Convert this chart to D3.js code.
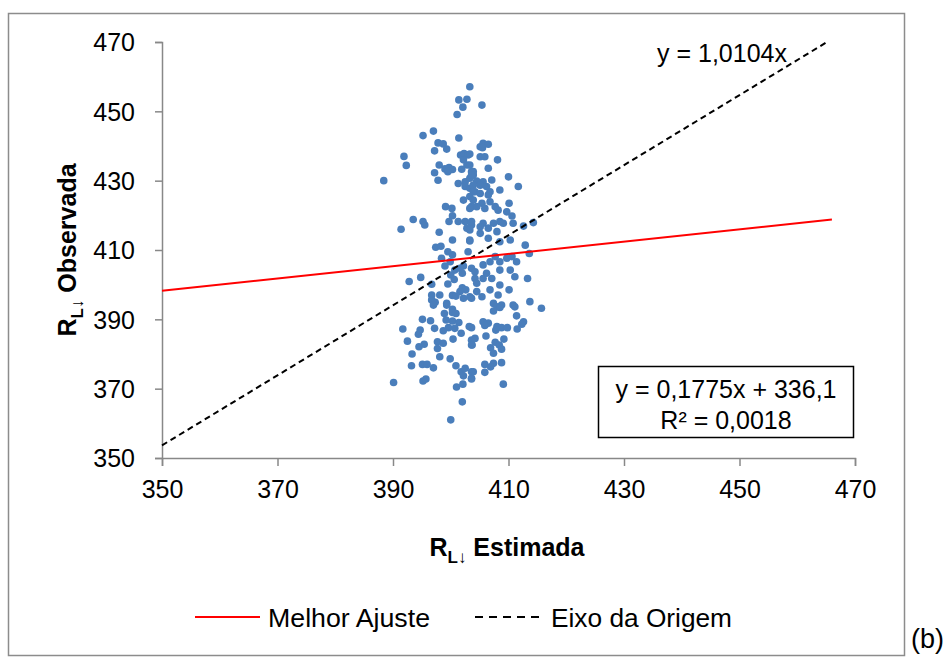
<!DOCTYPE html>
<html><head><meta charset="utf-8">
<script src="https://cdn.jsdelivr.net/npm/d3@7"></script>
<style>body{margin:0;background:#fff;} text{font-family:"Liberation Sans",Arial,sans-serif;}</style>
</head><body>
<svg id="c" width="947" height="659"></svg>
<script>
const xTicks = [350,370,390,410,430,450,470];
const yTicks = [350,370,390,410,430,450,470];
const estimada = [403.3,401.4,402.8,402.1,401.1,397.0,395.2,401.4,397.8,398.7,399.3,397.2,391.9,392.3,401.7,402.3,403.0,402.2,398.0,402.8,399.0,399.7,400.3,399.5,397.2,401.9,403.6,388.4,397.8,401.3,402.5,403.3,403.9,402.5,403.3,
405.4,405.6,406.5,405.1,405.5,403.3,405.1,405.9,408.1,403.3,406.5,403.9,403.6,410.0,407.1,405.6,404.5,403.9,405.1,406.2,408.5,411.7,406.8,404.2,
402.2,403.3,403.6,399.1,400.2,400.3,401.3,402.5,399.7,393.5,395.2,395.5,391.4,402.8,403.6,398.0,400.3,403.3,397.4,398.3,399.5,400.3,403.0,398.4,399.9,399.0,402.2,403.6,400.7,401.6,402.0,400.0,400.6,394.8,392.8,399.5,396.7,402.0,402.6,401.6,396.7,398.1,400.3,400.9,396.7,397.3,402.2,403.6,399.3,400.3,
403.9,405.1,406.5,406.8,405.4,403.9,403.3,404.5,405.9,407.7,408.2,410.1,409.7,410.6,410.8,409.1,408.5,407.4,405.6,405.1,406.5,408.0,403.6,403.3,414.3,412.6,410.3,408.5,406.5,405.1,403.3,412.9,413.6,411.4,409.7,410.6,408.5,407.7,406.8,405.6,404.2,406.2,407.1,408.5,410.3,411.1,413.3,404.2,405.6,410.1,408.5,406.8,404.5,403.3,405.4,408.2,407.4,408.8,413.7,410.8,415.7,404.5,
397.0,399.3,398.9,400.3,400.9,395.1,396.5,399.2,400.3,401.4,391.7,394.7,394.4,397.2,398.7,399.6,400.7,401.8,403.2,392.5,397.7,398.7,397.7,395.4,394.5,400.4,403.6,403.7,393.3,398.1,399.9,393.2,395.1,395.9,397.0,400.9,401.8,402.5,402.2,403.6,403.6,390.1,395.2,395.7,401.0,402.1,402.0,400.0,
408.0,407.4,408.5,411.1,411.4,405.6,406.5,405.9,403.6,408.0,408.8,409.8,407.8,412.6,412.3,411.5,406.1,409.2,404.2,403.6,407.7,408.4,406.9,408.8,407.4,405.9,407.4,408.8,406.9,403.9,405.9,403.6,409.1];
const observada = [457.1,453.3,453.5,451.2,449.1,444.3,443.0,442.3,440.9,440.6,439.1,438.6,437.0,434.4,437.4,437.8,437.4,436.0,434.5,434.5,433.4,433.8,433.2,432.6,432.3,433.3,432.6,430.0,430.1,429.2,429.7,430.7,431.6,428.3,427.8,
451.8,440.8,440.5,439.8,439.5,437.7,436.9,436.9,436.0,434.5,433.6,432.6,431.6,431.1,430.2,429.7,429.9,428.7,428.7,428.3,427.3,428.3,426.8,426.8,
424.4,425.4,422.5,422.5,422.0,419.9,418.2,418.2,418.2,418.8,418.2,417.2,416.0,416.3,417.2,415.1,412.9,412.6,410.8,411.1,409.5,408.6,409.5,407.6,406.6,405.4,405.4,404.7,404.2,404.7,403.3,402.8,401.5,402.1,400.9,400.2,400.1,399.1,398.5,398.0,397.0,397.0,396.9,396.7,395.6,394.9,396.1,396.1,394.6,392.9,
426.8,426.3,425.9,423.9,423.5,424.4,422.0,422.5,422.0,422.5,421.5,423.5,421.0,419.8,417.7,417.7,418.2,417.7,417.7,416.7,416.3,415.3,418.2,415.8,417.9,416.9,412.9,412.4,413.4,414.8,412.9,411.4,409.0,406.6,407.6,408.1,406.6,408.1,406.6,405.7,403.7,403.3,401.8,404.2,404.2,402.3,401.8,401.8,401.8,398.5,399.9,398.5,398.0,396.5,396.5,397.0,394.6,394.1,395.1,394.1,393.2,400.4,
394.1,394.1,391.7,392.0,391.7,390.0,389.6,389.8,389.5,389.1,387.2,386.9,385.7,387.4,386.7,387.6,387.4,386.0,387.9,383.7,383.5,383.1,381.6,382.8,382.1,384.3,384.0,382.6,380.0,379.2,378.6,376.6,377.0,377.0,376.0,376.6,374.9,375.9,373.7,374.9,373.0,371.8,372.2,372.8,370.5,371.3,366.2,361.0,
393.6,392.4,393.4,393.6,391.0,389.3,388.9,388.2,387.6,387.9,387.6,387.6,386.9,389.3,388.6,387.2,385.2,384.3,384.5,382.6,383.4,382.6,381.8,381.4,380.2,377.0,377.3,377.5,376.3,374.9,374.7,372.8,371.3];
const fitSlope = 0.1775, fitIntercept = 336.1, fitXEnd = 466;
const originSlope = 1.0104;
const fitLabel = "y = 0,1775x + 336,1";
const r2Label = "R² = 0,0018";
const originLabel = "y = 1,0104x";
const legendLabels = ["Melhor Ajuste", "Eixo da Origem"];

const svg = d3.select("#c");
svg.append("rect").attr("x",8.5).attr("y",13.5).attr("width",896).attr("height",642)
  .attr("fill","#fff").attr("stroke","#8c8c8c").attr("stroke-width",1.5);

const x = d3.scaleLinear().domain([350,470]).range([162,855]);
const y = d3.scaleLinear().domain([350,470]).range([458,42]);

const xAxis = svg.append("g").attr("transform","translate(0,458)")
  .call(d3.axisBottom(x).tickValues(xTicks).tickSize(8).tickPadding(14).tickFormat(d3.format("d")));
const yAxis = svg.append("g").attr("transform","translate(162,0)")
  .call(d3.axisLeft(y).tickValues(yTicks).tickSize(7).tickPadding(20).tickFormat(d3.format("d")));
[xAxis,yAxis].forEach(g=>{
  g.select(".domain").attr("stroke","#888").attr("stroke-width",1.5);
  g.selectAll(".tick line").attr("stroke","#888").attr("stroke-width",1.5);
  g.selectAll(".tick text").attr("fill","#000").style("font-size","25px").style("font-family","'Liberation Sans',Arial,sans-serif");
});
yAxis.selectAll(".tick text").attr("dy","0.35em");

// points
svg.append("g").selectAll("circle").data(estimada.map((v,i)=>[v,observada[i]])).join("circle")
  .attr("cx",d=>x(d[0])).attr("cy",d=>y(d[1])).attr("r",3.8).attr("fill","#4a7ebb");

// origin line
const oxEnd = 470/originSlope;
svg.append("line").attr("x1",x(350)).attr("y1",y(350*originSlope)).attr("x2",x(oxEnd)).attr("y2",y(470))
  .attr("stroke","#000").attr("stroke-width",2).attr("stroke-dasharray","6,4");
// fit line
svg.append("line").attr("x1",x(350)).attr("y1",y(fitSlope*350+fitIntercept)).attr("x2",x(fitXEnd)).attr("y2",y(fitSlope*fitXEnd+fitIntercept))
  .attr("stroke","#ff0000").attr("stroke-width",2);

// equation box
svg.append("rect").attr("x",598.5).attr("y",366.5).attr("width",255).attr("height",71)
  .attr("fill","#fff").attr("stroke","#000").attr("stroke-width",1.5);
svg.append("text").attr("x",726).attr("y",398).attr("text-anchor","middle").style("font-size","25px").text(fitLabel);
svg.append("text").attr("x",726).attr("y",429).attr("text-anchor","middle").style("font-size","25px").text(r2Label);
svg.append("text").attr("x",722).attr("y",62).attr("text-anchor","middle").style("font-size","25px").text(originLabel);

// axis titles
const xt = svg.append("text").attr("x",507).attr("y",556).attr("text-anchor","middle").style("font-size","25px").style("font-weight","bold");
xt.append("tspan").text("R");
xt.append("tspan").attr("dy",7).style("font-size","17px").text("L↓");
xt.append("tspan").attr("dy",-7).text(" Estimada");
const yt = svg.append("text").attr("transform","translate(76,250) rotate(-90)").attr("text-anchor","middle").style("font-size","25px").style("font-weight","bold");
yt.append("tspan").text("R");
yt.append("tspan").attr("dy",7).style("font-size","17px").text("L↓");
yt.append("tspan").attr("dy",-7).text(" Observada");

// legend
svg.append("line").attr("x1",195).attr("x2",260).attr("y1",617).attr("y2",617).attr("stroke","#ff0000").attr("stroke-width",2);
svg.append("text").attr("x",268).attr("y",627).style("font-size","25px")
  .attr("textLength",162).attr("lengthAdjust","spacingAndGlyphs").text(legendLabels[0]);
svg.append("line").attr("x1",475).attr("x2",540).attr("y1",617).attr("y2",617).attr("stroke","#000").attr("stroke-width",2).attr("stroke-dasharray","8,6");
svg.append("text").attr("x",551).attr("y",627).style("font-size","25px")
  .attr("textLength",181).attr("lengthAdjust","spacingAndGlyphs").text(legendLabels[1]);

svg.append("text").attr("x",911).attr("y",648).style("font-size","27px").text("(b)");
</script>
</body></html>
